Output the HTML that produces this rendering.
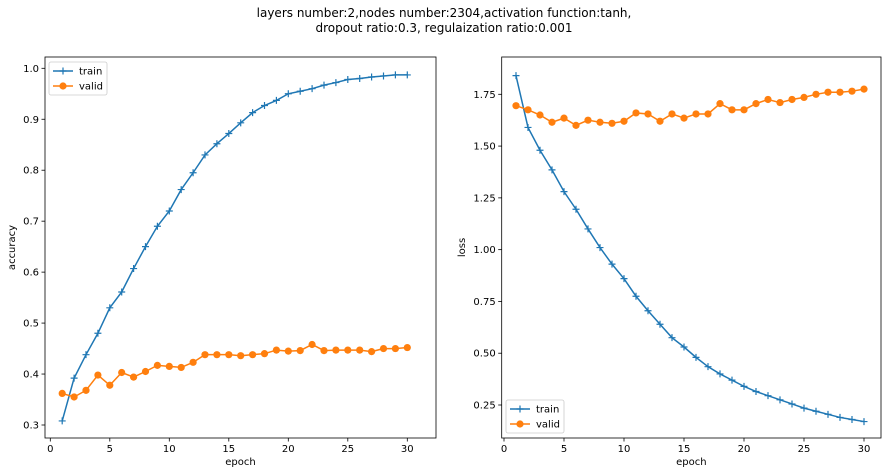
<!DOCTYPE html>
<html><head><meta charset="utf-8"><style>
body{margin:0;background:#fff;}
svg{display:block;font-family:"DejaVu Sans","Liberation Sans",sans-serif;}
</style></head><body>
<svg id="fig" width="888" height="476">
<rect width="888" height="476" fill="#fff"/>
<text x="444" y="17" text-anchor="middle" font-size="12">layers number:2,nodes number:2304,activation function:tanh,</text>
<text x="444" y="32" text-anchor="middle" font-size="12">dropout ratio:0.3, regulaization ratio:0.001</text>
</svg>
<script>
const epochs=[1,2,3,4,5,6,7,8,9,10,11,12,13,14,15,16,17,18,19,20,21,22,23,24,25,26,27,28,29,30];
const accTrain=[0.308,0.392,0.438,0.48,0.53,0.561,0.607,0.65,0.69,0.72,0.762,0.795,0.83,0.852,0.872,0.893,0.913,0.927,0.937,0.95,0.955,0.96,0.967,0.972,0.978,0.98,0.983,0.985,0.987,0.987];
const accValid=[0.362,0.355,0.368,0.398,0.378,0.403,0.394,0.405,0.417,0.415,0.413,0.423,0.438,0.438,0.438,0.436,0.438,0.440,0.447,0.445,0.446,0.458,0.446,0.447,0.447,0.447,0.444,0.450,0.450,0.452];
const lossTrain=[1.84,1.59,1.48,1.385,1.28,1.195,1.10,1.01,0.93,0.86,0.775,0.705,0.64,0.575,0.53,0.48,0.435,0.40,0.37,0.34,0.315,0.295,0.275,0.255,0.235,0.22,0.205,0.19,0.18,0.17];
const lossValid=[1.695,1.675,1.65,1.615,1.635,1.6,1.625,1.615,1.61,1.62,1.66,1.655,1.62,1.655,1.635,1.655,1.655,1.705,1.675,1.675,1.705,1.725,1.71,1.725,1.735,1.75,1.76,1.76,1.765,1.775];
const xTicks=[0,5,10,15,20,25,30];
const accTicks=[0.3,0.4,0.5,0.6,0.7,0.8,0.9,1.0];
const accTickLabels=["0.3","0.4","0.5","0.6","0.7","0.8","0.9","1.0"];
const lossTicks=[0.25,0.5,0.75,1.0,1.25,1.5,1.75];
const lossTickLabels=["0.25","0.50","0.75","1.00","1.25","1.50","1.75"];

const NS="http://www.w3.org/2000/svg";
const svg=document.getElementById('fig');
function mk(tag,attrs,parent){const e=document.createElementNS(NS,tag);for(const k in attrs)e.setAttribute(k,attrs[k]);(parent||svg).appendChild(e);return e;}

function panel(p){
  const g=mk('g',{});
  
  
  const sx=v=>p.x0px+(v-0)*(p.x30px-p.x0px)/30;
  const sy=v=>p.yAp+(v-p.yA)*(p.yBp-p.yAp)/(p.yB-p.yA);
  const fr=mk('rect',{x:p.L,y:p.T,width:p.R-p.L,height:p.B-p.T,fill:'none',stroke:'#000','stroke-width':0.8},g);
  
  
  xTicks.forEach(t=>{
    mk('line',{x1:sx(t),x2:sx(t),y1:p.B,y2:p.B+3.5,stroke:'#000','stroke-width':0.8},g);
    const tx=mk('text',{x:sx(t),y:p.B+14,'text-anchor':'middle','font-size':10},g);
    tx.textContent=t;
    
    
  });
  p.yt.forEach((t,i)=>{
    mk('line',{x1:p.L-3.5,x2:p.L,y1:sy(t),y2:sy(t),stroke:'#000','stroke-width':0.8},g);
    const tx=mk('text',{x:p.L-6,y:sy(t)+3.5,'text-anchor':'end','font-size':10},g);
    tx.textContent=p.ytl[i];
    
    
  });
  const xl=mk('text',{x:(p.L+p.R)/2,y:p.B+27,'text-anchor':'middle','font-size':10},g);
  xl.textContent='epoch';
  
  
  const yl=mk('text',{x:0,y:0,'text-anchor':'middle','font-size':10,transform:`translate(${p.ylx},${(p.T+p.B)/2}) rotate(-90)`},g);
  yl.textContent=p.ylabel;
  
  
  // series
  const tp=mk('polyline',{points:epochs.map((e,i)=>sx(e)+','+sy(p.train[i])).join(' '),fill:'none',stroke:'#1f77b4','stroke-width':1.5},g);
  
  
  epochs.forEach((e,i)=>{
    const x=sx(e),y=sy(p.train[i]);
    const m=mk('path',{d:`M${x-3.5},${y}H${x+3.5}M${x},${y-3.5}V${y+3.5}`,stroke:'#1f77b4','stroke-width':1.2},g);
    
    
  });
  const vp=mk('polyline',{points:epochs.map((e,i)=>sx(e)+','+sy(p.valid[i])).join(' '),fill:'none',stroke:'#ff7f0e','stroke-width':1.5},g);
  
  
  epochs.forEach((e,i)=>{
    const c=mk('circle',{cx:sx(e),cy:sy(p.valid[i]),r:3.6,fill:'#ff7f0e'},g);
    
    
  });
  // legend
  const lg=mk('g',{},g);
  
  
  mk('rect',{x:p.lgx,y:p.lgy,width:58,height:33,rx:2,fill:'#fff','fill-opacity':0.8,stroke:'#ccc','stroke-width':0.8},lg);
  const y1=p.lgy+9,y2=p.lgy+24;
  mk('line',{x1:p.lgx+4,x2:p.lgx+24,y1:y1,y2:y1,stroke:'#1f77b4','stroke-width':1.5},lg);
  mk('path',{d:`M${p.lgx+10.5},${y1}H${p.lgx+17.5}M${p.lgx+14},${y1-3.5}V${y1+3.5}`,stroke:'#1f77b4','stroke-width':1.2},lg);
  const t1=mk('text',{x:p.lgx+30,y:y1+3.5,'font-size':10},lg);t1.textContent='train';
  
  
  mk('line',{x1:p.lgx+4,x2:p.lgx+24,y1:y2,y2:y2,stroke:'#ff7f0e','stroke-width':1.5},lg);
  mk('circle',{cx:p.lgx+14,cy:y2,r:3.6,fill:'#ff7f0e'},lg);
  const t2=mk('text',{x:p.lgx+30,y:y2+3.5,'font-size':10},lg);t2.textContent='valid';
  
  
}
panel({name:'accuracy-chart',L:45,R:436,T:57,B:438,x0px:50.3,x30px:407.3,yA:1.0,yAp:68.3,yB:0.3,yBp:425,yt:accTicks,ytl:accTickLabels,ylabel:'accuracy',ylx:15,train:accTrain,valid:accValid,lgx:49,lgy:62});
panel({name:'loss-chart',L:501.7,R:881,T:57,B:438,x0px:504,x30px:864,yA:1.75,yAp:94.3,yB:0.25,yBp:405,yt:lossTicks,ytl:lossTickLabels,ylabel:'loss',ylx:465,train:lossTrain,valid:lossValid,lgx:506,lgy:400});
</script>
</body></html>
